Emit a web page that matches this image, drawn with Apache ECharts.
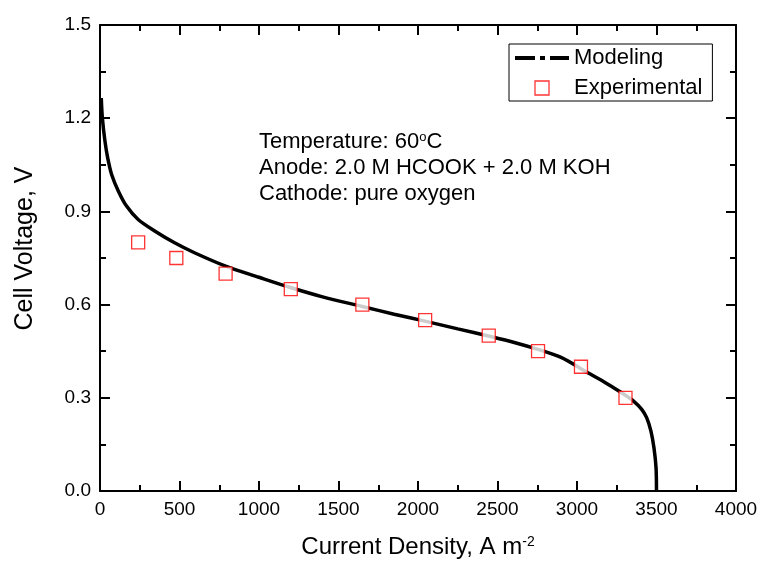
<!DOCTYPE html>
<html>
<head>
<meta charset="utf-8">
<script src="https://cdn.jsdelivr.net/npm/echarts@6/dist/echarts.min.js"></script>
<style>html,body{margin:0;padding:0;background:#fff;}#c{width:761px;height:564px;}</style>
</head>
<body>
<div id="c"></div>
<script>
// Data
var modelCurrent = [8, 15, 31, 48, 73, 115, 167, 240, 344, 469, 594, 790, 1000, 1198, 1400, 1650, 1850, 2050, 2250, 2450, 2600, 2760, 2900, 3071, 3145, 3228, 3300, 3354, 3407, 3438, 3465, 3484, 3497, 3500];
var modelVoltage = [1.265, 1.2, 1.127, 1.073, 1.019, 0.966, 0.917, 0.874, 0.837, 0.799, 0.767, 0.724, 0.688, 0.655, 0.625, 0.594, 0.569, 0.546, 0.522, 0.498, 0.479, 0.455, 0.43, 0.38, 0.359, 0.333, 0.31, 0.29, 0.263, 0.236, 0.193, 0.139, 0.075, 0.0];
var expCurrent = [240, 480, 790, 1200, 1650, 2045, 2445, 2755, 3025, 3305];
var expVoltage = [0.80, 0.75, 0.70, 0.65, 0.60, 0.55, 0.50, 0.45, 0.40, 0.30];
var annotationLines = ['Anode: 2.0 M HCOOK + 2.0 M KOH', 'Cathode: pure oxygen'];

var FONT = "'Liberation Sans', Arial, sans-serif";
function zip(a, b) { return a.map(function (v, i) { return [v, b[i]]; }); }

var axisCommon = {
  axisLine: { show: true, onZero: false, lineStyle: { color: '#000', width: 2 } },
  axisTick: { show: true, inside: true, length: 10, lineStyle: { color: '#000', width: 2 } },
  minorTick: { show: true, splitNumber: 2, length: 6, lineStyle: { color: '#000', width: 2 } },
  splitLine: { show: false }
};

function mk(base, extra) { return Object.assign({}, JSON.parse(JSON.stringify(base)), extra); }

var chart = echarts.init(document.getElementById('c'), null, { renderer: 'canvas' });
chart.setOption({
  backgroundColor: '#fff',
  animation: false,
  grid: { left: 100, right: 25, top: 25, bottom: 73 },
  xAxis: [
    mk(axisCommon, {
      type: 'value', min: 0, max: 4000, interval: 500, position: 'bottom',
      axisLabel: { color: '#000', fontSize: 19, fontFamily: FONT, margin: 9,
        formatter: function (v) { return String(v); } },
      name: 'Current Density, A m{s|-2}', nameLocation: 'middle', nameGap: 44,
      nameTextStyle: { color: '#000', fontSize: 24, fontFamily: FONT,
        rich: { s: { fontSize: 14, verticalAlign: 'top', fontFamily: FONT, color: '#000' } } }
    }),
    mk(axisCommon, {
      type: 'value', min: 0, max: 4000, interval: 500, position: 'top',
      axisLabel: { show: false }
    })
  ],
  yAxis: [
    mk(axisCommon, {
      type: 'value', min: 0, max: 1.5, interval: 0.3, position: 'left',
      axisLabel: { color: '#000', fontSize: 19, fontFamily: FONT, margin: 9,
        formatter: function (v) { return v.toFixed(1); } },
      name: 'Cell Voltage, V', nameLocation: 'middle', nameGap: 62,
      nameTextStyle: { color: '#000', fontSize: 25, fontFamily: FONT, padding: [0, 0, 0, 19] }
    }),
    mk(axisCommon, {
      type: 'value', min: 0, max: 1.5, interval: 0.3, position: 'right',
      axisLabel: { show: false }
    })
  ],
  legend: {
    orient: 'vertical', left: 509, top: 44,
    padding: [2, 10, 1, 6],
    borderColor: '#000', borderWidth: 1,
    itemWidth: 54, itemHeight: 14, itemGap: 6,
    textStyle: { color: '#000', fontSize: 22, fontFamily: FONT, lineHeight: 24 },
    data: [
      { name: 'Modeling', icon: 'path://M0,0h20v4h-20z M25,0h5v4h-5z M35,0h19v4h-19z', itemStyle: { color: '#000' } },
      { name: 'Experimental', icon: 'path://M0,0h14v14h-14z', itemStyle: { color: '#fff', borderColor: '#ff0000', borderWidth: 1.3 } }
    ]
  },
  graphic: [
    { type: 'text', left: 259, top: 131, z: 10,
      style: { text: 'Temperature: 60{s|o}C', fill: '#000', fontSize: 22, fontFamily: FONT,
        rich: { s: { fontSize: 13, verticalAlign: 'top', fill: '#000', fontFamily: FONT } } } },
    { type: 'text', left: 259, top: 157, z: 10,
      style: { text: annotationLines[0], fill: '#000', fontSize: 22, fontFamily: FONT } },
    { type: 'text', left: 259, top: 183, z: 10,
      style: { text: annotationLines[1], fill: '#000', fontSize: 22, fontFamily: FONT } }
  ],
  series: [
    {
      name: 'Modeling', type: 'line', xAxisIndex: 0, yAxisIndex: 0,
      data: zip(modelCurrent, modelVoltage),
      showSymbol: false, symbol: 'none', smooth: 0.3,
      lineStyle: { color: '#000', width: 3.5 }, itemStyle: { color: '#000' }, z: 2
    },
    {
      name: 'Experimental', type: 'scatter', xAxisIndex: 0, yAxisIndex: 0,
      data: zip(expCurrent, expVoltage),
      symbol: 'rect', symbolSize: 13,
      itemStyle: { color: '#fff', borderColor: '#ff0000', borderWidth: 1.3 }, z: 3
    }
  ]
});
</script>
</body>
</html>
